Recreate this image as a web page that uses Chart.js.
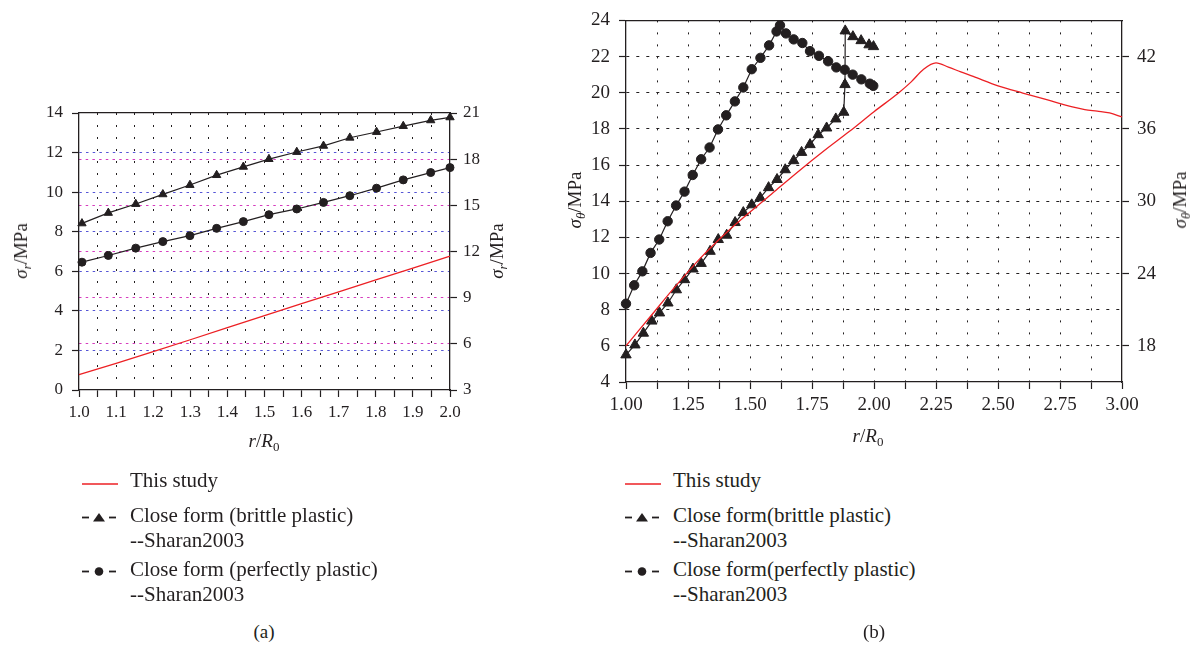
<!DOCTYPE html>
<html>
<head>
<meta charset="utf-8">
<script src="https://cdn.jsdelivr.net/npm/chart.js@4/dist/chart.umd.min.js"></script>
<style>
    html, body { margin: 0; padding: 0; background: #fff; }
    #fig { position: relative; width: 1201px; height: 650px; overflow: hidden; font-family: 'Liberation Serif', serif; color: #231f20; }
    canvas { position: absolute; top: 0; }
    .title { position: absolute; white-space: nowrap; font-size: 19px; transform: translate(-50%, -50%); }
    .title.rot { transform: translate(-50%, -50%) rotate(-90deg); }
    .title sub { font-size: 13px; vertical-align: -4px; line-height: 0; }
    .leg { position: absolute; white-space: nowrap; font-size: 21px; line-height: 24px; }
    .sym { position: absolute; }
    .panel-tag { position: absolute; font-size: 19px; transform: translateX(-50%); }
</style>
</head>
<body>
<div id="fig">
    <canvas id="chartA" width="600" height="450" style="left:0px"></canvas>
    <canvas id="chartB" width="661" height="450" style="left:540px"></canvas>

    <div class="title rot" style="left:21px; top:251px"><i>σ</i><sub><i>r</i></sub>/MPa</div>
    <div class="title rot" style="left:497px; top:251px"><i>σ</i><sub><i>r</i></sub>/MPa</div>
    <div class="title" style="left:264px; top:441px"><i>r</i>/<i>R</i><sub>0</sub></div>

    <div class="title rot" style="left:575px; top:200px"><i>σ</i><sub><i>θ</i></sub>/MPa</div>
    <div class="title rot" style="left:1180px; top:200px"><i>σ</i><sub><i>θ</i></sub>/MPa</div>
    <div class="title" style="left:868px; top:436px"><i>r</i>/<i>R</i><sub>0</sub></div>

    <div id="legendA"></div>
    <div id="legendB"></div>

    <div class="panel-tag" style="left:264px; top:621px">(a)</div>
    <div class="panel-tag" style="left:874px; top:621px">(b)</div>
</div>

<script>
// Panel (a): radial stress
const aBrittleX = [1.008, 1.079, 1.153, 1.226, 1.299, 1.371, 1.443, 1.512, 1.587, 1.659, 1.730, 1.802, 1.874, 1.948, 2.000];
const aBrittleY = [8.42, 8.95, 9.40, 9.89, 10.36, 10.86, 11.28, 11.67, 12.03, 12.34, 12.75, 13.04, 13.34, 13.63, 13.78];
const aPerfectX = [1.008, 1.079, 1.153, 1.226, 1.299, 1.371, 1.443, 1.512, 1.587, 1.659, 1.730, 1.802, 1.874, 1.948, 2.000];
const aPerfectY = [6.46, 6.80, 7.17, 7.50, 7.80, 8.17, 8.51, 8.86, 9.15, 9.48, 9.82, 10.20, 10.62, 10.99, 11.24];
const aStudyX = [1.0, 1.1, 1.2, 1.3, 1.4, 1.5, 1.6, 1.7, 1.8, 1.9, 2.0];
const aStudyY = [0.78, 1.35, 1.94, 2.54, 3.15, 3.76, 4.36, 4.96, 5.56, 6.16, 6.77];

const aXTickLabels = ['1.0', '1.1', '1.2', '1.3', '1.4', '1.5', '1.6', '1.7', '1.8', '1.9', '2.0'];
const aYTickLabels = ['0', '2', '4', '6', '8', '10', '12', '14'];
const aY2TickLabels = ['3', '6', '9', '12', '15', '18', '21'];

// Panel (b): hoop stress
const bBrittleX = [1.000, 1.036, 1.070, 1.104, 1.135, 1.169, 1.203, 1.236, 1.270, 1.303, 1.339, 1.372, 1.406, 1.440, 1.473, 1.507, 1.541, 1.575, 1.609, 1.642, 1.676, 1.708, 1.742, 1.775, 1.809, 1.846, 1.878, 1.883, 1.884, 1.915, 1.948, 1.980, 1.998];
const bBrittleY = [5.50, 6.05, 6.70, 7.37, 7.82, 8.37, 9.10, 9.66, 10.25, 10.56, 11.23, 11.88, 12.12, 12.82, 13.37, 13.80, 14.19, 14.75, 15.20, 15.74, 16.24, 16.70, 17.13, 17.68, 18.05, 18.55, 18.92, 20.45, 23.42, 23.10, 22.88, 22.65, 22.55];
const bPerfectX = [1.000, 1.033, 1.066, 1.099, 1.134, 1.168, 1.202, 1.236, 1.269, 1.303, 1.337, 1.371, 1.404, 1.439, 1.473, 1.507, 1.542, 1.577, 1.607, 1.621, 1.645, 1.676, 1.711, 1.742, 1.778, 1.815, 1.848, 1.882, 1.914, 1.949, 1.983, 1.997];
const bPerfectY = [8.33, 9.35, 10.12, 11.14, 11.88, 12.89, 13.76, 14.53, 15.45, 16.32, 16.97, 17.97, 18.75, 19.52, 20.29, 21.30, 21.93, 22.62, 23.39, 23.73, 23.28, 22.95, 22.75, 22.30, 22.04, 21.74, 21.40, 21.27, 21.00, 20.74, 20.50, 20.38];
const bStudyX = [1.0, 1.1, 1.2, 1.3, 1.4, 1.5, 1.6, 1.7, 1.8, 1.9, 2.0, 2.1, 2.15, 2.2, 2.25, 2.3, 2.35, 2.4, 2.5, 2.6, 2.7, 2.8, 2.85, 2.9, 2.95, 3.0];
const bStudyY = [6.0, 7.65, 9.3, 10.85, 12.2, 13.4, 14.55, 15.7, 16.8, 17.85, 18.95, 20.0, 20.6, 21.3, 21.65, 21.42, 21.15, 20.9, 20.38, 19.98, 19.6, 19.22, 19.07, 18.98, 18.88, 18.66];

const bXTickLabels = ['1.00', '1.25', '1.50', '1.75', '2.00', '2.25', '2.50', '2.75', '3.00'];
const bYTickLabels = ['4', '6', '8', '10', '12', '14', '16', '18', '20', '22', '24'];
const bY2TickLabels = ['18', '24', '30', '36', '42'];

const INK = '#231f20';
const RED = 'rgb(236, 32, 36)';
const BLUE = 'rgb(86, 86, 214)';
const MAGENTA = 'rgb(214, 60, 190)';

Chart.defaults.font.family = "'Liberation Serif', serif";
Chart.defaults.color = INK;

// // // // // // //
// HELPER FUNCTIONS
// // // // // // //

function toPoints(xs, ys) {
    return xs.map((x, i) => ({ x: x, y: ys[i] }));
}

// tick objects from the label list, with a minor tick halfway between majors
function buildTicks(labels, withMinor) {
    let ticks = [];
    labels.forEach((label, i) => {
        let v = parseFloat(label);
        ticks.push({ value: v, text: label, minor: false });
        if (withMinor && i < labels.length - 1) {
            let next = parseFloat(labels[i + 1]);
            ticks.push({ value: (v + next) / 2, text: '', minor: true });
        }
    });
    return ticks;
}

function axis(position, min, max, labels, opts) {
    return {
        type: 'linear',
        position: position,
        min: min,
        max: max,
        afterBuildTicks: (scale) => { scale.ticks = buildTicks(labels, opts.minor); },
        afterFit: (scale) => {
            if (scale.isHorizontal()) scale.height = opts.size;
            else scale.width = opts.size;
        },
        ticks: {
            autoSkip: false,
            maxRotation: 0,
            padding: opts.padding,
            font: { size: opts.fontSize },
            color: INK,
            callback: (value, index, ticks) => ticks[index].text
        },
        grid: {
            drawOnChartArea: !!opts.gridColor,
            color: (ctx) => {
                let t = ctx.tick;
                if (!opts.gridColor || !t) return 'rgba(0,0,0,0)';
                if (t.value === min || t.value === max) return 'rgba(0,0,0,0)';
                if (t.minor && !opts.minorGrid) return 'rgba(0,0,0,0)';
                return opts.gridColor;
            },
            lineWidth: 1,
            tickLength: 7,
            tickWidth: 1.2,
            tickColor: (ctx) => (ctx.tick && ctx.tick.minor && !opts.minorTicks) ? 'rgba(0,0,0,0)' : INK
        },
        // in v4 the grid line dash lives under border.dash
        border: { display: true, color: INK, width: 1.3, dash: opts.dash || [2, 10] }
    };
}

// plain frame edge along the top of the plot
function topFrame(min, max, size) {
    return {
        type: 'linear',
        position: 'top',
        min: min,
        max: max,
        afterFit: (scale) => { scale.height = size; },
        ticks: { display: false },
        grid: { display: false, drawTicks: false },
        border: { display: true, color: INK, width: 1.3 }
    };
}

function seriesSet(label, xs, ys, style) {
    return {
        label: label,
        data: toPoints(xs, ys),
        showLine: true,
        borderColor: style.color,
        backgroundColor: style.color,
        borderWidth: style.width || 1.2,
        pointStyle: style.point || false,
        pointRadius: style.radius || 0,
        pointBorderWidth: 1,
        pointBorderColor: style.color,
        pointBackgroundColor: style.color,
        cubicInterpolationMode: style.smooth ? 'monotone' : 'default',
        tension: 0,
        clip: false
    };
}

function makeChart(canvasId, datasets, scales) {
    const ctx = document.getElementById(canvasId).getContext('2d');
    return new Chart(ctx, {
        type: 'scatter',
        data: { datasets: datasets },
        options: {
            responsive: false,
            animation: false,
            devicePixelRatio: 1,
            layout: { padding: 0 },
            scales: scales,
            plugins: { legend: { display: false }, tooltip: { enabled: false } }
        }
    });
}

// html legend: one row per entry, symbols drawn as small svg
function legendSymbol(kind) {
    if (kind === 'line') {
        return '<svg width="38" height="10"><line x1="1" y1="5" x2="37" y2="5" stroke="' + RED + '" stroke-width="1.3"/></svg>';
    }
    let mark = kind === 'triangle'
        ? '<polygon points="18,1 24,9.5 12,9.5" fill="' + INK + '"/>'
        : '<circle cx="18" cy="5.5" r="4.3" fill="' + INK + '"/>';
    return '<svg width="38" height="12">' +
        '<line x1="1" y1="5.5" x2="8" y2="5.5" stroke="' + INK + '" stroke-width="1.8"/>' + mark +
        '<line x1="28" y1="5.5" x2="35" y2="5.5" stroke="' + INK + '" stroke-width="1.8"/></svg>';
}

function drawLegend(id, symX, textX, entries) {
    let rows = [
        { y: 481, sym: 'line', text: entries[0] },
        { y: 516, sym: 'triangle', text: entries[1] },
        { y: 541, sym: null, text: '--Sharan2003' },
        { y: 570, sym: 'circle', text: entries[2] },
        { y: 595, sym: null, text: '--Sharan2003' }
    ];
    let html = '';
    rows.forEach((row) => {
        if (row.sym) {
            html += '<div class="sym" style="left:' + symX + 'px; top:' + (row.y - 6) + 'px">' + legendSymbol(row.sym) + '</div>';
        }
        html += '<div class="leg" style="left:' + textX + 'px; top:' + (row.y - 13) + 'px">' + row.text + '</div>';
    });
    document.getElementById(id).innerHTML = html;
}

// // // // // // //
// PANEL (a)
// // // // // // //

makeChart('chartA', [
    seriesSet('This study', aStudyX, aStudyY, { color: RED, width: 1.3 }),
    seriesSet('Close form (brittle plastic) --Sharan2003', aBrittleX, aBrittleY, { color: INK, point: 'triangle', radius: 4.8 }),
    seriesSet('Close form (perfectly plastic) --Sharan2003', aPerfectX, aPerfectY, { color: INK, point: 'circle', radius: 4.0 })
], {
    x: axis('bottom', 1, 2, aXTickLabels, { size: 60, padding: 5, fontSize: 17, minor: true, minorTicks: true, gridColor: INK, minorGrid: true, dash: [2, 10] }),
    xTop: topFrame(1, 2, 113),
    y: axis('left', 0, 14, aYTickLabels, { size: 79, padding: 9, fontSize: 17, minor: false, gridColor: BLUE, dash: [2.5, 4.2] }),
    y2: axis('right', 3, 21, aY2TickLabels, { size: 150, padding: 6, fontSize: 17, minor: false, gridColor: MAGENTA, dash: [2.5, 4.2] })
});

// // // // // // //
// PANEL (b)
// // // // // // //

makeChart('chartB', [
    seriesSet('This study', bStudyX, bStudyY, { color: RED, width: 1.3, smooth: true }),
    seriesSet('Close form(brittle plastic) --Sharan2003', bBrittleX, bBrittleY, { color: INK, point: 'triangle', radius: 6 }),
    seriesSet('Close form(perfectly plastic) --Sharan2003', bPerfectX, bPerfectY, { color: INK, point: 'circle', radius: 4.7 })
], {
    x: axis('bottom', 1, 3, bXTickLabels, { size: 68, padding: 5, fontSize: 19, minor: true, minorTicks: true, gridColor: INK, minorGrid: true, dash: [2, 10] }),
    xTop: topFrame(1, 3, 14),
    y: axis('left', 4, 24, bYTickLabels, { size: 86, padding: 9, fontSize: 19, minor: false, gridColor: INK, dash: [3, 7] }),
    y2: axis('right', 15, 45, bY2TickLabels, { size: 79, padding: 8, fontSize: 19, minor: false, gridColor: null })
});

drawLegend('legendA', 81, 130, ['This study', 'Close form (brittle plastic)', 'Close form (perfectly plastic)']);
drawLegend('legendB', 624, 673, ['This study', 'Close form(brittle plastic)', 'Close form(perfectly plastic)']);
</script>
</body>
</html>
